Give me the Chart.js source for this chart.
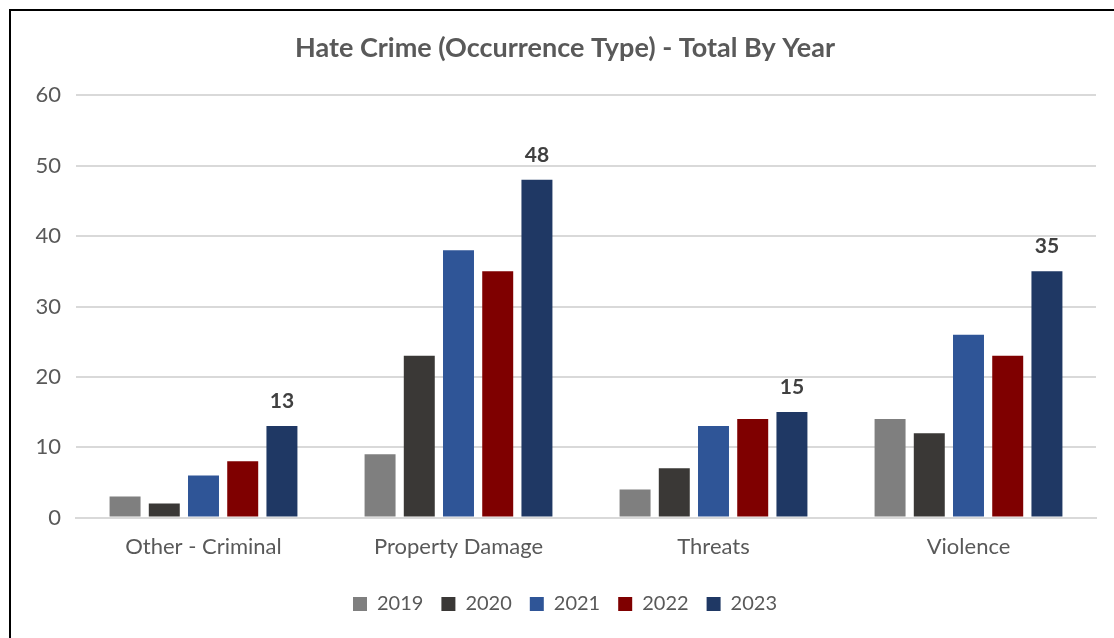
<!DOCTYPE html>
<html>
<head>
<meta charset="utf-8">
<script src="https://cdn.jsdelivr.net/npm/chart.js@4"></script>
<style>
html,body{margin:0;padding:0;background:#fff;overflow:hidden;}
#wrap{position:absolute;left:0;top:0;width:1114px;height:638px;}
#frame{position:absolute;left:9px;top:9px;width:1200px;height:700px;border-left:2px solid #000;border-top:2px solid #000;pointer-events:none;}
</style>
</head>
<body>
<div id="wrap"><canvas id="c" width="1114" height="638"></canvas></div>
<div id="frame"></div>
<script>
const categories = ["Other - Criminal", "Property Damage", "Threats", "Violence"];
const years = ["2019", "2020", "2021", "2022", "2023"];
const v2019 = [3, 9, 4, 14];
const v2020 = [2, 23, 7, 12];
const v2021 = [6, 38, 13, 26];
const v2022 = [8, 35, 14, 23];
const v2023 = [13, 48, 15, 35];
const yTicks = [0, 10, 20, 30, 40, 50, 60];
const colors = ["#7f7f7f", "#3a3836", "#2f5597", "#7f0000", "#1f3864"];
const seriesValues = [v2019, v2020, v2021, v2022, v2023];
const labelledSeries = "2023";

const FONT = "Lato, 'Liberation Sans', sans-serif";

const labelPlugin = {
  id: "valueLabels",
  afterDatasetsDraw(chart) {
    const ctx = chart.ctx;
    chart.data.datasets.forEach((ds, i) => {
      if (ds.label !== labelledSeries) return;
      const meta = chart.getDatasetMeta(i);
      meta.data.forEach((bar, j) => {
        ctx.save();
        ctx.font = "bold 21px " + FONT;
        ctx.fillStyle = "#404040";
        ctx.textAlign = "center";
        ctx.textBaseline = "middle";
        ctx.fillText(String(ds.data[j]), bar.x, bar.y - 25);
        ctx.restore();
      });
    });
  }
};

new Chart(document.getElementById("c"), {
  type: "bar",
  data: {
    labels: categories,
    datasets: years.map((y, i) => ({
      label: y,
      data: seriesValues[i],
      backgroundColor: colors[i],
      borderWidth: 0,
      categoryPercentage: 0.769,
      barPercentage: 0.79
    }))
  },
  options: {
    responsive: false,
    animation: false,
    devicePixelRatio: 1,
    layout: { padding: { left: 34, right: 18, top: 0, bottom: 14 } },
    plugins: {
      title: {
        display: true,
        text: "Hate Crime (Occurrence Type) - Total By Year",
        color: "#595959",
        font: { family: FONT, size: 27, weight: "bold" },
        padding: { top: 32, bottom: 31 }
      },
      legend: {
        display: true,
        position: "bottom",
        labels: {
          color: "#595959",
          font: { family: FONT, size: 20 },
          boxWidth: 14,
          boxHeight: 14,
          padding: 18
        }
      },
      tooltip: { enabled: false }
    },
    scales: {
      x: {
        grid: { display: false, drawTicks: false },
        border: { display: true, color: "#d9d9d9", width: 2 },
        ticks: { color: "#595959", font: { family: FONT, size: 22 }, padding: 16 }
      },
      y: {
        min: 0,
        max: 60,
        afterBuildTicks(scale) { scale.ticks = yTicks.map(v => ({ value: v })); },
        afterFit(scale) { scale.width = 42; },
        grid: { color: "#d9d9d9", lineWidth: 2, drawTicks: false },
        border: { display: false },
        ticks: { color: "#595959", font: { family: FONT, size: 22 }, padding: 15 }
      }
    }
  },
  plugins: [labelPlugin]
});
</script>
</body>
</html>
